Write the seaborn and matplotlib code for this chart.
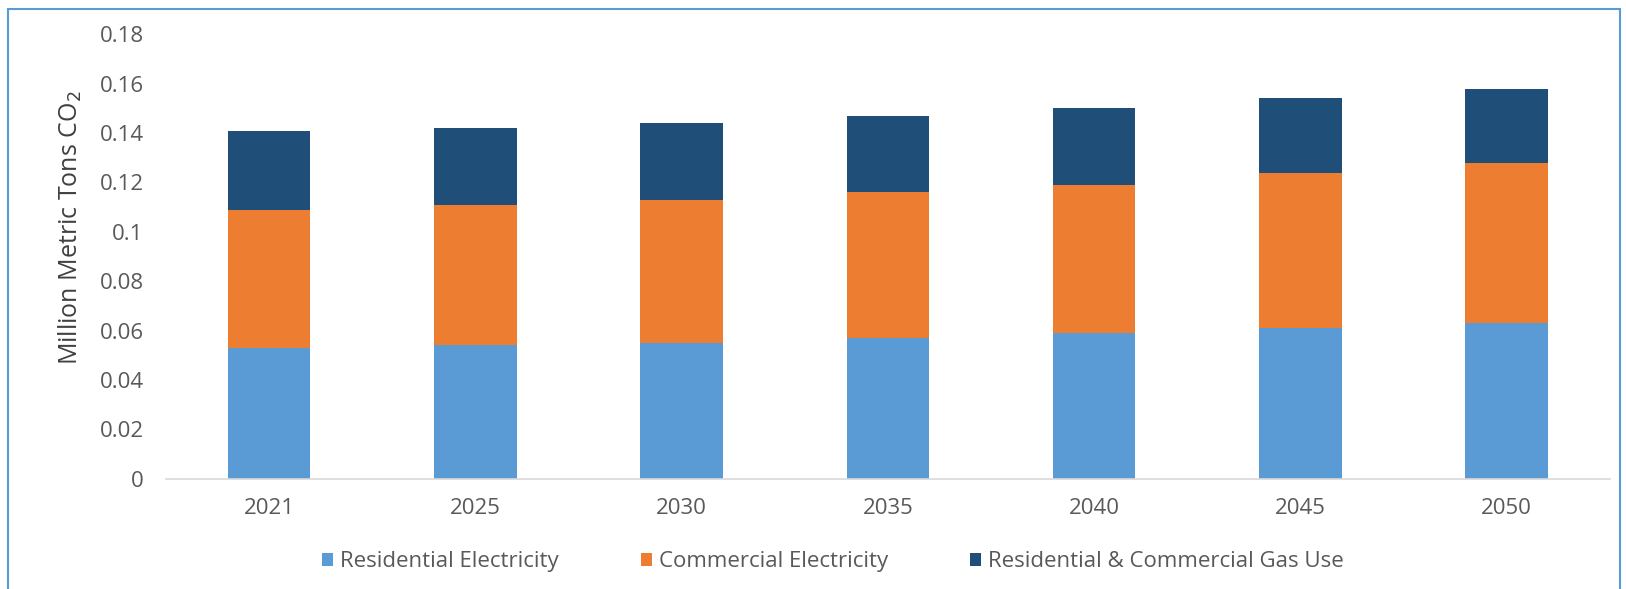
import numpy as np
import pandas as pd
import seaborn as sns
import matplotlib.pyplot as plt
from matplotlib.patches import Rectangle

years = ["2021", "2025", "2030", "2035", "2040", "2045", "2050"]
residential = [0.053, 0.054, 0.055, 0.057, 0.059, 0.061, 0.063]
commercial = [0.056, 0.057, 0.058, 0.059, 0.060, 0.063, 0.065]
gas = [0.032, 0.031, 0.031, 0.031, 0.031, 0.030, 0.030]

labels = ["Residential Electricity", "Commercial Electricity", "Residential & Commercial Gas Use"]
colors = ["#5B9BD5", "#ED7D31", "#1F4E79"]

df = pd.DataFrame({"year": years, "res": residential, "com": commercial, "gas": gas})

sns.set_style("white")
plt.rcParams["font.family"] = ["Open Sans", "DejaVu Sans"]

fig = plt.figure(figsize=(16.26, 5.89), dpi=100)
ax = fig.add_axes([0.102, 0.187, 0.888, 0.755])

bottom = np.zeros(len(years))
for col, lab, c in zip(["res", "com", "gas"], labels, colors):
    sns.barplot(data=df, x="year", y=col, color=c, width=0.4, bottom=bottom,
                label=lab, ax=ax, saturation=1, linewidth=0)
    bottom = bottom + df[col].values

ax.set_xlim(-0.5, 6.5)
ax.set_ylim(0, 0.18)
ax.set_yticks([0, 0.02, 0.04, 0.06, 0.08, 0.1, 0.12, 0.14, 0.16, 0.18])
ax.set_yticklabels(["0", "0.02", "0.04", "0.06", "0.08", "0.1", "0.12", "0.14", "0.16", "0.18"])
ax.tick_params(axis="both", labelsize=16, colors="#595959", length=0)
ax.tick_params(axis="y", pad=16)
ax.tick_params(axis="x", pad=14)
ax.set_xlabel("")
ax.set_ylabel("Million Metric Tons CO$_2$", fontsize=18, color="#404040")
ax.yaxis.set_label_coords(-0.057, 0.564)

for s in ["top", "right", "left"]:
    ax.spines[s].set_visible(False)
ax.spines["bottom"].set_color("#D9D9D9")
ax.spines["bottom"].set_linewidth(1.2)

ax.legend(loc="center", bbox_to_anchor=(0.462, -0.186), ncol=3, frameon=False,
          fontsize=16, handlelength=0.5, handleheight=0.5, handletextpad=0.3,
          columnspacing=3.7, labelcolor="#595959")

fig.patches.append(Rectangle((8 / 1626, -0.02), 1612 / 1626, 1 - 9 / 589 + 0.02,
                             transform=fig.transFigure, fill=False,
                             edgecolor="#5B9BD5", linewidth=1.5))

fig.savefig("out.png", dpi=100)
